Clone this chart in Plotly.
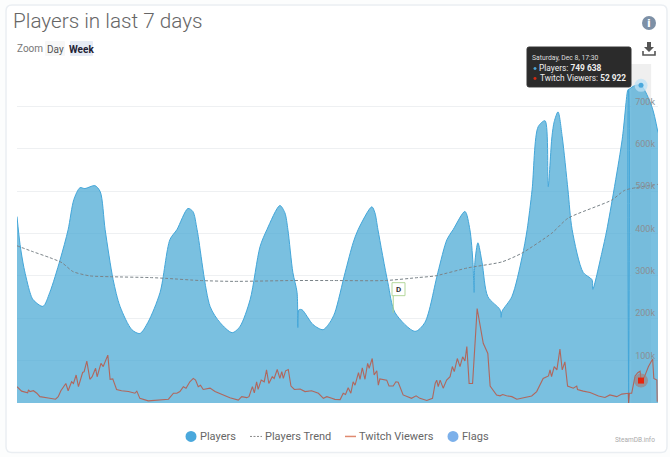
import plotly.graph_objects as go

TITLE = "Players in last 7 days"
TICK_VALUES = [0, 100, 200, 300, 400, 500, 600, 700, 800]
TICK_LABELS = ["0", "100k", "200k", "300k", "400k", "500k", "600k", "700k", ""]

player_hours = [0, 0.8, 1.8, 3.4, 4.2, 6.8, 8.6, 11.3, 13.4, 14.9, 16.5, 17.8, 20.4, 21.8, 23.1, 25.2, 27.0, 30.1, 32.2,
                34.3, 37.5, 40.1, 41.9, 44.8, 46.1, 47.2, 50.6, 53.2, 56.4, 58.4, 61.1, 63.7, 65.5, 68.9, 70.2, 71.0,
                72.3, 73.4, 73.6, 73.9, 74.7, 77.6, 80.2, 82.0, 83.3, 86.0, 88.1, 89.4, 93.0, 93.8, 94.6, 97.2, 99.1,
                104.3, 106.9, 110.3, 112.7, 114.3, 117.4, 118.7, 119.5, 119.8, 120.0, 120.8, 121.9, 123.4, 126.6, 126.9,
                127.1, 129.7, 132.4, 133.7, 135.0, 136.6, 138.4, 139.2, 140.2, 140.8, 141.8, 142.9, 144.4, 145.5, 148.4,
                150.7, 150.9, 153.3, 154.6, 158.6, 160.1, 160.25, 160.29, 160.3, 160.31, 160.35, 160.5, 161.9, 163.55, 166.4, 168]
players_k = [440, 374, 320, 261, 244, 228, 261, 338, 409, 480, 508, 506, 513, 499, 409, 291, 228, 173, 164,
             190, 261, 386, 409, 459, 452, 409, 228, 190, 166, 180, 244, 369, 409, 466, 449, 409,
             308, 261, 178, 220, 220, 185, 173, 190, 213, 308, 378, 409, 463, 449, 409, 284, 213,
             169, 190, 308, 386, 409, 452, 409, 331, 261, 331, 378, 331, 251, 220, 202,
             216, 251, 345, 409, 503, 652, 666, 510, 628, 664, 687, 628, 503, 409, 308,
             291, 268, 355, 409, 621, 739, 740, 740, 0, 740, 740, 741, 749, 749.6, 699, 638]

trend_hours = [0, 4.2, 8.6, 11.8, 14.7, 19.1, 24.4, 34.9, 39.3, 48.0, 56.6, 72.3, 82.9, 96.5, 105.1, 109.6, 118.2,
               127.1, 132.4, 140.2, 144.4, 155.9, 159.3, 168]
trend_k = [371, 357, 343, 331, 310, 300, 298, 296, 294, 289, 287, 289, 289, 289, 296, 300, 319,
           333, 354, 401, 436, 479, 502, 516]

twitch_hours = [0, 1.2, 2.8, 3.0, 3.4, 4.3, 5.2, 6.0, 8.2, 10.1, 10.8, 11.5, 12.8, 13.4, 14.3, 14.8, 15.5, 16.1, 17.2,
                17.6, 18.3, 19.1, 19.7, 20.6, 21.0, 22.0, 22.6, 23.8, 24.4, 25.1, 26.1, 27.4, 29.2, 30.9, 31.4, 32.2,
                34.4, 37.0, 39.7, 41.0, 41.9, 42.7, 43.6, 44.3, 45.3, 46.2, 46.8, 47.5, 48.1, 48.8, 50.6, 51.9, 53.7,
                55.8, 58.0, 58.9, 60.2, 60.8, 61.7, 62.2, 62.8, 63.2, 64.0, 64.8, 65.4, 66.0, 66.9, 67.4, 68.2, 68.9,
                69.4, 69.8, 70.4, 71.1, 71.8, 72.7, 74.2, 75.5, 77.2, 79.0, 80.3, 81.2, 82.5, 83.3, 84.7, 85.5, 86.1,
                86.8, 87.5, 88.1, 88.6, 89.5, 89.9, 90.5, 91.2, 91.9, 92.3, 93.1, 93.6, 94.3, 94.7, 95.1, 96.9, 97.5,
                98.6, 99.3, 99.9, 101.2, 103.4, 104.6, 105.6, 107.4, 108.9, 109.6, 110.0, 110.4, 110.9, 111.7, 112.6,
                113.5, 114.1, 114.6, 115.4, 116.1, 116.8, 117.4, 117.9, 118.5, 119.4, 120.6, 122.2, 123.4, 124.0, 125.7,
                126.6, 127.3, 128.3, 129.7, 131.0, 132.7, 134.9, 136.2, 137.9, 139.3, 139.7, 140.1, 140.8, 141.5, 142.3,
                142.9, 143.6, 144.3, 145.8, 146.7, 146.9, 148.4, 150.2, 152.4, 154.1, 155.4, 157.2, 158.5, 160.2, 160.3,
                160.5, 161.1, 162.0, 162.7, 163.3, 163.55, 164.0, 164.8, 165.5, 166.6, 166.9, 167.7, 167.8]
twitch_k = [38.5, 28, 24, 31, 27, 29, 23, 15, 12, 9, 15, 29, 46, 29, 50, 46, 66, 38.5, 72,
            74, 99, 56, 62, 82, 62, 93.5, 86, 113, 56, 57, 32, 29, 27, 23, 28, 11,
            5, 7, 9, 23, 23, 27, 38.5, 35, 50, 58, 54, 38.5, 42, 32, 35, 27, 20,
            12.6, 7, 15, 12.6, 15, 38.5, 24, 50, 32, 54, 50, 78, 46, 62, 58, 79, 58,
            74, 58, 76, 79, 40, 32, 33, 27, 29, 23, 11, 15, 11, 8.6, 8, 23, 20,
            36, 23, 50, 42, 71.5, 56, 83, 56, 93.5, 82, 105, 66, 76, 42, 57, 54, 40,
            40, 50, 49, 19, 11, 17, 11, 6, 11, 46, 54, 38.5, 54, 35, 54,
            62, 86, 74, 105, 86, 109, 99, 133, 46, 46, 223, 141, 117, 40, 19,
            17, 20, 17, 15, 9, 13, 16.5, 27, 58, 64, 78, 62, 86, 78, 127,
            78, 97, 40, 35, 40, 32, 28, 25, 16.5, 13, 19, 15, 21, 23, 0,
            23, 23, 64, 71.5, 75, 52.9, 53, 70, 86, 104, 58, 54, 3]

hover_hour = [163.55]
hover_players = [749.6]
hover_twitch = [52.9]
flag_hour = [98.6]
flag_low = [213]
flag_high = [253]

L, T, R, B = 17, 64, 658, 403.5
W, H = 670, 457


def xp(px):
    return (px - L) / (R - L)


def yp(py):
    return (B - py) / (B - T)


def rounded(x0, y0, x1, y1, r):
    return (f"M{xp(x0 + r)},{yp(y0)} L{xp(x1 - r)},{yp(y0)} Q{xp(x1)},{yp(y0)} {xp(x1)},{yp(y0 + r)} "
            f"L{xp(x1)},{yp(y1 - r)} Q{xp(x1)},{yp(y1)} {xp(x1 - r)},{yp(y1)} "
            f"L{xp(x0 + r)},{yp(y1)} Q{xp(x0)},{yp(y1)} {xp(x0)},{yp(y1 - r)} "
            f"L{xp(x0)},{yp(y0 + r)} Q{xp(x0)},{yp(y0)} {xp(x0 + r)},{yp(y0)} Z")


shapes = []
annotations = []


def pshape(path, fill="rgba(0,0,0,0)", line=None, width=1, layer="above"):
    shapes.append(dict(type="path", xref="paper", yref="paper", path=path, fillcolor=fill,
                       line=dict(color=line or "rgba(0,0,0,0)", width=width if line else 0), layer=layer))


def pline(x0, y0, x1, y1, color, width=1, dash="solid", layer="above"):
    shapes.append(dict(type="line", xref="paper", yref="paper", x0=xp(x0), x1=xp(x1), y0=yp(y0), y1=yp(y1),
                       line=dict(color=color, width=width, dash=dash), layer=layer))


def pcircle(cx, cy, r, fill, layer="above"):
    shapes.append(dict(type="circle", xref="paper", yref="paper", x0=xp(cx - r), x1=xp(cx + r), y0=yp(cy - r),
                       y1=yp(cy + r), fillcolor=fill, line=dict(width=0), layer=layer))


def text(px, py, s, size, color, anchor="left", weight=None, family="Roboto"):
    font = dict(family=family, size=size, color=color)
    if weight:
        font["weight"] = weight
    annotations.append(dict(xref="paper", yref="paper", x=xp(px), y=yp(py), text=s, showarrow=False,
                            xanchor=anchor, yanchor="middle", font=font, borderpad=0, borderwidth=0))


# card
pshape(rounded(6, 5, 667, 453, 6), fill="#ffffff", line="#eaeef2", width=1.5, layer="below")

# hover band
shapes.append(dict(type="rect", xref="x", yref="paper", x0=161.0, x1=166.2, y0=0, y1=1, fillcolor="#efefef",
                   line=dict(width=0), layer="below"))

# title and zoom buttons
text(13, 21, TITLE, 20.7, "#666666", weight=300)
text(17, 48, "Zoom", 10, "#777777")
pshape(rounded(45, 41, 65, 56, 1), fill="#f7f7f7", layer="below")
pshape(rounded(70, 41, 93, 56, 1), fill="#e6ebf5", layer="below")
text(55, 49, "Day", 10, "#555555", anchor="center")
text(81.5, 49, "<b>Week</b>", 10, "#222233", anchor="center")

# flag
shapes.append(dict(type="line", xref="x", yref="y", x0=flag_hour[0], x1=flag_hour[0], y0=flag_low[0], y1=flag_high[0],
                   line=dict(color="#a9d18e", width=1)))
pshape(rounded(392, 283, 405, 296, 0), fill="#ffffff", line="#b4d79b", width=1)
text(398.5, 289.5, "<b>D</b>", 8, "#333333", anchor="center")

# tooltip
pshape(rounded(527, 47, 631, 87, 2), fill="#2b2b2b", line="#333333")
text(532, 58, "Saturday, Dec 8, 17:30", 6.8, "#dddddd")
pcircle(535, 68.5, 1.5, "#4ba8dc")
text(539, 68, "Players: <b>749 638</b>", 8.4, "#eeeeee")
pcircle(535, 78.5, 1.5, "#d42a12")
text(540, 78, "Twitch Viewers: <b>52 922</b>", 8.3, "#eeeeee")

# right icons
pcircle(649, 23, 7, "#7d90a6")
text(649, 23, "<b>i</b>", 11, "#ffffff", anchor="center", family="DejaVu Sans")
pshape(f"M{xp(647)},{yp(42)} L{xp(651)},{yp(42)} L{xp(651)},{yp(47)} L{xp(654)},{yp(47)} L{xp(649)},{yp(52)} "
       f"L{xp(644)},{yp(47)} L{xp(647)},{yp(47)} Z", fill="#555555")
pshape(f"M{xp(643)},{yp(51)} L{xp(643)},{yp(55)} L{xp(655)},{yp(55)} L{xp(655)},{yp(51)}", line="#555555", width=1.6)

# legend
pcircle(191, 437, 5.5, "#4aa8dc")
text(200, 437.5, "Players", 11, "#666666")
pline(250, 437, 262, 437, "#888888", 1, "2px,1.5px")
text(265, 437.5, "Players Trend", 11, "#666666")
pline(345, 437, 356, 437, "#e08a70", 1.5)
text(359, 437.5, "Twitch Viewers", 11, "#666666")
pcircle(453, 437, 5.5, "#7cb0ea")
text(462, 437.5, "Flags", 11, "#666666")
text(655, 441, "SteamDB.info", 6.5, "#aaaaaa", anchor="right")

fig = go.Figure()
fig.add_trace(go.Scatter(x=player_hours, y=players_k, mode="lines", name="Players", fill="tozeroy",
                         fillcolor="rgba(70,168,212,0.72)",
                         line=dict(color="rgba(67,166,217,1)", width=1, shape="spline", smoothing=0.8)))
fig.add_trace(go.Scatter(x=trend_hours, y=trend_k, mode="lines", name="Players Trend",
                         line=dict(color="#7a8388", width=1, dash="3px,2px", shape="spline", smoothing=0.6)))
fig.add_trace(go.Scatter(x=twitch_hours, y=twitch_k, mode="lines", name="Twitch Viewers",
                         line=dict(color="rgba(190,80,60,0.8)", width=1.1)))
fig.add_trace(go.Scatter(x=hover_hour, y=hover_players, mode="markers", showlegend=False,
                         marker=dict(size=13, color="rgba(190,225,245,0.75)")))
fig.add_trace(go.Scatter(x=hover_hour, y=hover_players, mode="markers", showlegend=False,
                         marker=dict(size=5, color="#4ba8dc")))
fig.add_trace(go.Scatter(x=hover_hour, y=hover_twitch, mode="markers", showlegend=False,
                         marker=dict(size=14, color="rgba(170,120,110,0.6)")))
fig.add_trace(go.Scatter(x=hover_hour, y=hover_twitch, mode="markers", showlegend=False,
                         marker=dict(size=6, symbol="square", color="#e8250c")))

fig.update_layout(
    width=W, height=H, showlegend=False, paper_bgcolor="#fcfdfd", plot_bgcolor="rgba(0,0,0,0)",
    margin=dict(l=L, r=W - R, t=T, b=H - B),
    shapes=shapes, annotations=annotations,
    xaxis=dict(range=[0, 168], visible=False, fixedrange=True),
    yaxis=dict(range=[0, 800], side="right", tickmode="array", tickvals=TICK_VALUES, ticktext=TICK_LABELS,
               ticklabelposition="inside", ticks="", showline=False, zeroline=False,
               gridcolor="#eef0f2", gridwidth=1, tickfont=dict(family="Roboto", size=9, color="#8a8f93"),
               ticklabelshift=-5, fixedrange=True),
)
fig.write_html("out.html", config=dict(displayModeBar=False),
               post_script="document.body.style.margin='0';")
